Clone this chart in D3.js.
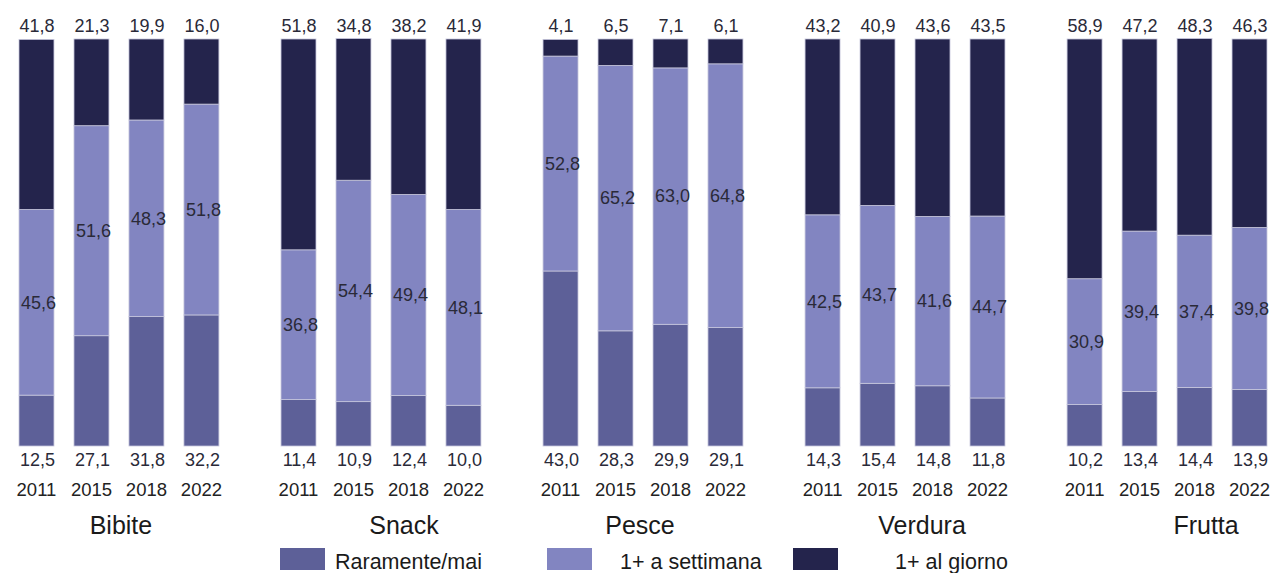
<!DOCTYPE html>
<html>
<head>
<meta charset="utf-8">
<script src="https://cdn.jsdelivr.net/npm/d3@7"></script>
<style>
  html, body { margin: 0; padding: 0; background: #ffffff; }
  svg { display: block; }
  text { font-family: "Liberation Sans", Arial, Helvetica, sans-serif; }
</style>
</head>
<body>
<svg id="chart" width="1271" height="573"></svg>
<script>
// ---- data ----
const categories = ["Bibite", "Snack", "Pesce", "Verdura", "Frutta"];
const years = ["2011", "2015", "2018", "2022"];
const seriesNames = ["Raramente/mai", "1+ a settimana", "1+ al giorno"];
const raramente = [
  [12.5, 27.1, 31.8, 32.2],
  [11.4, 10.9, 12.4, 10.0],
  [43.0, 28.3, 29.9, 29.1],
  [14.3, 15.4, 14.8, 11.8],
  [10.2, 13.4, 14.4, 13.9]
];
const settimana = [
  [45.6, 51.6, 48.3, 51.8],
  [36.8, 54.4, 49.4, 48.1],
  [52.8, 65.2, 63.0, 64.8],
  [42.5, 43.7, 41.6, 44.7],
  [30.9, 39.4, 37.4, 39.8]
];
const giorno = [
  [41.8, 21.3, 19.9, 16.0],
  [51.8, 34.8, 38.2, 41.9],
  [4.1, 6.5, 7.1, 6.1],
  [43.2, 40.9, 43.6, 43.5],
  [58.9, 47.2, 48.3, 46.3]
];

// ---- layout / style ----
const colors = ["#5d6098", "#8285c1", "#24244c"];
const groupLabelShift = [2, 23, -3, 17, 39];
const legendSwatchX = [280, 547, 793];
const legendTextX = [335, 620, 895];
const textColor = "#2a2a38";

const svg = d3.select("#chart");
const locale = d3.formatLocale({decimal: ",", thousands: ".", grouping: [3], currency: ["", "€"]});
const fmt = locale.format(".1f");

const x0 = d3.scaleBand().domain(categories).range([19, 1267]).paddingInner(0.237).paddingOuter(0);
const x1 = d3.scaleBand().domain(years).range([0, x0.bandwidth()]).paddingInner(0.364).paddingOuter(0);
const y = d3.scaleLinear().domain([0, 100]).range([446, 39]);

// build rows
const rows = [];
categories.forEach((c, gi) => {
  years.forEach((yr, yi) => {
    rows.push({cat: c, gi: gi, year: yr, vals: [raramente[gi][yi], settimana[gi][yi], giorno[gi][yi]]});
  });
});

const stack = d3.stack().keys([0, 1, 2]).value((d, k) => d.vals[k]);
const stacked = stack(rows);

const gBars = svg.append("g");
stacked.forEach((layer, li) => {
  gBars.selectAll(null).data(layer).enter().append("rect")
    .attr("x", d => x0(d.data.cat) + x1(d.data.year))
    .attr("width", x1.bandwidth())
    .attr("y", d => y(d[1]))
    .attr("height", d => y(d[0]) - y(d[1]))
    .attr("fill", colors[li])
    .attr("stroke", "#c6c6dc")
    .attr("stroke-width", 0.8);
});

const cx = d => x0(d.cat) + x1(d.year) + x1.bandwidth() / 2;

// top labels (1+ al giorno)
svg.append("g").selectAll("text").data(rows).enter().append("text")
  .attr("x", d => cx(d) + 0.5)
  .attr("y", 32)
  .attr("text-anchor", "middle")
  .attr("font-size", 18)
  .attr("fill", textColor)
  .text(d => fmt(d.vals[2]));

// middle labels (1+ a settimana)
svg.append("g").selectAll("text").data(stacked[1]).enter().append("text")
  .attr("x", d => cx(d.data) + 2)
  .attr("y", d => (y(d[0]) + y(d[1])) / 2)
  .attr("dy", "0.35em")
  .attr("text-anchor", "middle")
  .attr("font-size", 18)
  .attr("fill", textColor)
  .text(d => fmt(d.data.vals[1]));

// bottom labels (Raramente/mai)
svg.append("g").selectAll("text").data(rows).enter().append("text")
  .attr("x", d => cx(d) + 1)
  .attr("y", 466)
  .attr("text-anchor", "middle")
  .attr("font-size", 18)
  .attr("fill", textColor)
  .text(d => fmt(d.vals[0]));

// year labels
svg.append("g").selectAll("text").data(rows).enter().append("text")
  .attr("x", d => cx(d))
  .attr("y", 496)
  .attr("text-anchor", "middle")
  .attr("font-size", 18.5)
  .attr("fill", "#222222")
  .text(d => d.year);

// group labels
svg.append("g").selectAll("text").data(categories).enter().append("text")
  .attr("x", (d, i) => x0(d) + x0.bandwidth() / 2 + groupLabelShift[i])
  .attr("y", 534)
  .attr("text-anchor", "middle")
  .attr("font-size", 25)
  .attr("fill", "#1a1a1a")
  .text(d => d);

// legend
const lg = svg.append("g");
seriesNames.forEach((s, i) => {
  lg.append("rect")
    .attr("x", legendSwatchX[i]).attr("y", 548)
    .attr("width", 45).attr("height", 22)
    .attr("fill", colors[i]);
  lg.append("text")
    .attr("x", legendTextX[i]).attr("y", 569)
    .attr("font-size", 21.5)
    .attr("fill", "#1a1a1a")
    .text(s);
});
</script>
</body>
</html>
